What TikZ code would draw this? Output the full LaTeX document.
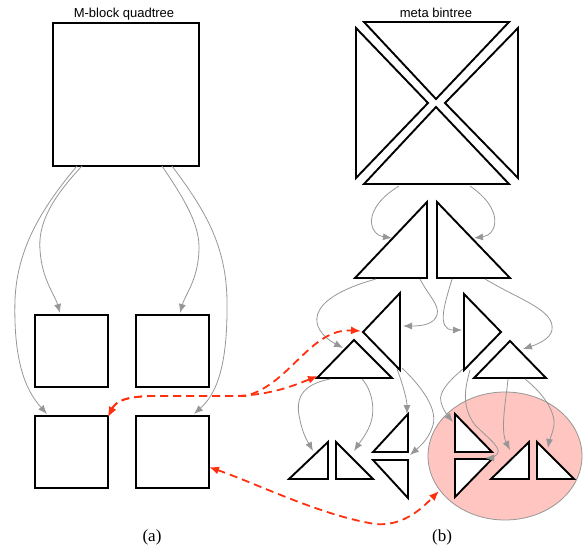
\documentclass[tikz,border=0pt]{standalone}
\usepackage{fontspec}
\setmainfont{Liberation Serif}
\newfontfamily\arialf{Liberation Sans}
\usetikzlibrary{arrows.meta}
\definecolor{redc}{RGB}{255,48,16}
\definecolor{pinkc}{RGB}{255,197,192}
\definecolor{grayc}{RGB}{150,150,150}
\begin{document}
\begin{tikzpicture}[x=1pt,y=-1pt,
  tri/.style={draw=black, line width=1.9pt, fill=white, line join=miter},
  box/.style={draw=black, line width=1.9pt, fill=white, inner sep=0pt, anchor=north west,
    minimum width=73pt, minimum height=72pt},
  garrow/.style={draw=grayc, line width=0.8pt, -{Latex[length=9pt,width=7pt]}},
  rarrow/.style={draw=redc, line width=1.8pt, dash pattern=on 8pt off 5pt,
    {Latex[length=10pt,width=8pt]}-{Latex[length=10pt,width=8pt]}},
  title/.style={font=\arialf\fontsize{13}{15}\selectfont, anchor=base, inner sep=0pt},
  caption/.style={font=\fontsize{17}{20}\selectfont, inner sep=0pt}
]
\useasboundingbox (0,0) rectangle (583,552);

% ---------------- (a) M-block quadtree ----------------
\node[title] (tq) at (124,17) {M-block quadtree};
\node[box, minimum width=146pt, minimum height=143pt] (bigsq) at (52,22) {};
\node[box] (s1) at (34,314) {};
\node[box] (s2) at (135,314) {};
\node[box] (s3) at (34,415) {};
\node[box] (s4) at (135,415) {};
\node[caption] (capa) at (152,537) {(a)};

\coordinate (qa) at (77,166);
\coordinate (qb) at (82,166);
\coordinate (qc) at (162,166);
\coordinate (qd) at (172,166);
\coordinate (s1t) at (60,313);
\coordinate (s2t) at (180,313);
\coordinate (s3t) at (47,414);
\coordinate (s4t) at (194,414);

\draw[garrow] (qa) .. controls (40,210) and (17,250) .. (15,300) .. controls (13,370) and (30,395) .. (s3t);
\draw[garrow] (qb) .. controls (50,200) and (38,225) .. (40,250) .. controls (42,280) and (55,295) .. (s1t);
\draw[garrow] (qc) .. controls (185,200) and (200,225) .. (199,250) .. controls (198,280) and (185,295) .. (s2t);
\draw[garrow] (qd) .. controls (205,210) and (226,245) .. (227,300) .. controls (228,370) and (215,395) .. (s4t);

% ---------------- (b) meta bintree ----------------
\node[title] (tb) at (436,17) {meta bintree};
\node[caption] (capb) at (442,537) {(b)};

\draw[draw=grayc, line width=0.8pt, fill=pinkc] (505,456) ellipse [x radius=77, y radius=64];
\coordinate (ell) at (439,491);

% big square of four triangles
\draw[tri] (364,22) -- (509,22) -- (436,99) -- cycle;
\draw[tri] (356,28) -- (356,178) -- (428,103) -- cycle;
\draw[tri] (518,28) -- (518,178) -- (445,103) -- cycle;
\draw[tri] (364,184) -- (509,184) -- (436,107) -- cycle;

% level 2
\draw[tri] (427,202) -- (427,278) -- (355,278) -- cycle;
\draw[tri] (437,202) -- (437,278) -- (510,278) -- cycle;

% level 3
\draw[tri] (400,293) -- (400,370) -- (363,332) -- cycle;
\draw[tri] (317,378) -- (392,378) -- (354,340) -- cycle;
\draw[tri] (464,294) -- (464,370) -- (501,332) -- cycle;
\draw[tri] (474,378) -- (546,378) -- (510,341) -- cycle;

% level 4
\draw[tri] (289,479) -- (328,479) -- (328,442) -- cycle;
\draw[tri] (336,442) -- (336,479) -- (373,479) -- cycle;
\draw[tri] (373,452) -- (408,452) -- (408,414) -- cycle;
\draw[tri] (373,460) -- (408,460) -- (408,498) -- cycle;
\draw[tri] (455,414) -- (455,452) -- (492,452) -- cycle;
\draw[tri] (455,459) -- (492,459) -- (455,497) -- cycle;
\draw[tri] (491,479) -- (529,479) -- (529,442) -- cycle;
\draw[tri] (537,442) -- (537,479) -- (574,479) -- cycle;

% connector end points
\coordinate (b1s) at (399,186);
\coordinate (b2s) at (470,186);
\coordinate (l2a) at (392,238);
\coordinate (r2a) at (474,238);
\coordinate (l2s1) at (376,279);
\coordinate (l2s2) at (420,279);
\coordinate (r2s1) at (452,279);
\coordinate (r2s2) at (485,279);
\coordinate (t1a) at (403,326);
\coordinate (t2a) at (343,348);
\coordinate (t3a) at (462,330);
\coordinate (t4a) at (523,349);
\coordinate (t2s1) at (330,379);
\coordinate (t2s2) at (362,379);
\coordinate (t1s1) at (397,369);
\coordinate (t1s2) at (402,368);
\coordinate (t3s1) at (463,369);
\coordinate (t3s2) at (470,370);
\coordinate (t4s1) at (508,379);
\coordinate (t4s2) at (525,379);
\coordinate (qaa) at (313,451);
\coordinate (qba) at (354,451);
\coordinate (qca) at (407,414);
\coordinate (qda) at (410,455);
\coordinate (qea) at (453,422);
\coordinate (qfa) at (485,458);
\coordinate (qga) at (510,450);
\coordinate (qha) at (548,448);

% gray arrows
\draw[garrow] (b1s) .. controls (360,210) and (370,235) .. (l2a);
\draw[garrow] (b2s) .. controls (505,210) and (497,235) .. (r2a);

\draw[garrow] (l2s1) .. controls (300,300) and (310,330) .. (t2a);
\draw[garrow] (l2s2) .. controls (428,295) and (440,305) .. (437,315) .. controls (434,325) and (420,326) .. (t1a);
\draw[garrow] (r2s1) .. controls (446,300) and (435,330) .. (t3a);
\draw[garrow] (r2s2) .. controls (520,300) and (555,310) .. (552,330) .. controls (550,340) and (535,345) .. (t4a);

\draw[garrow] (t2s1) .. controls (300,385) and (295,400) .. (300,420) .. controls (303,435) and (308,442) .. (qaa);
\draw[garrow] (t2s2) .. controls (372,390) and (376,410) .. (370,425) .. controls (366,435) and (360,442) .. (qba);
\draw[garrow] (t1s1) .. controls (403,385) and (407,400) .. (qca);
\draw[garrow] (t1s2) .. controls (420,385) and (440,410) .. (432,428) .. controls (428,440) and (418,448) .. (qda);
\draw[garrow] (t3s1) .. controls (450,380) and (438,392) .. (441,402) .. controls (443,410) and (448,416) .. (qea);
\draw[garrow] (t3s2) .. controls (466,385) and (460,405) .. (475,425) .. controls (490,440) and (505,450) .. (495,456) .. controls (492,458) and (489,458) .. (qfa);
\draw[garrow] (t4s1) .. controls (506,400) and (500,430) .. (qga);
\draw[garrow] (t4s2) .. controls (545,395) and (558,415) .. (553,430) .. controls (551,437) and (549,442) .. (qha);

% red dashed arrows
\coordinate (s3c) at (108,417);
\coordinate (s4r) at (209,467);
\coordinate (t2l) at (318,376);
\coordinate (t1l) at (361,331);
\draw[rarrow] (s3c) .. controls (116,401) and (125,397) .. (150,396) -- (230,396) .. controls (270,396) and (295,385) .. (t2l);
\draw[rarrow] (s3c) .. controls (116,401) and (125,397) .. (150,396) -- (245,396) .. controls (290,385) and (310,328) .. (t1l);
\draw[rarrow] (s4r) .. controls (260,485) and (320,515) .. (375,524) .. controls (405,527) and (425,505) .. (ell);
\end{tikzpicture}
\end{document}
